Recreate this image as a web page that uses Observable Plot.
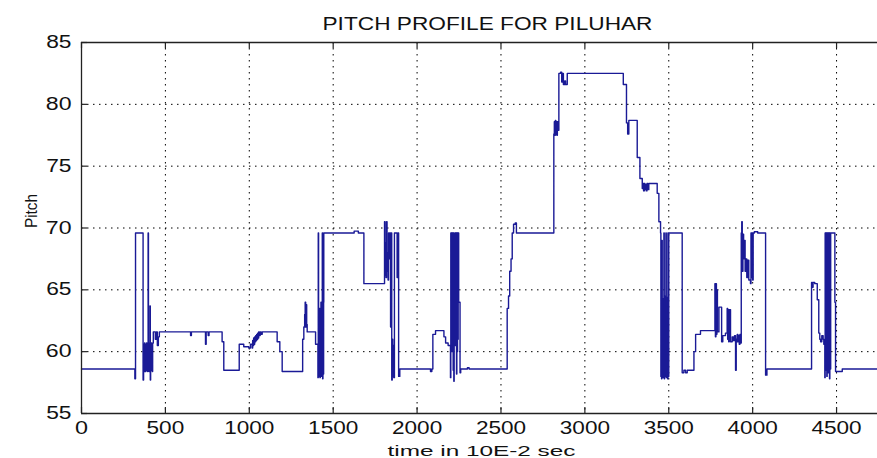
<!DOCTYPE html>
<html><head><meta charset="utf-8">
<script src="https://cdn.jsdelivr.net/npm/d3@7"></script>
<script src="https://cdn.jsdelivr.net/npm/@observablehq/plot@0.6"></script>
<style>body{margin:0;background:#fff;}</style>
</head><body><div id="chart"></div><script>
// [time (10E-2 s), pitch] samples, drawn as a step line
const samples = [
[0,58.6],[318,57.8],[322,69.6],[367,57.7],
[370,59.0],[372,60.6],[374,58.4],[376,60.7],[378,58.5],[380,60.5],[382,58.4],[384,60.6],[386,58.6],[388,60.7],[390,58.5],[392,60.4],[394,58.4],[396,60.6],[397,69.6],[399,58.5],[401,60.7],[403,58.4],[405,60.6],[407,58.5],[408,63.7],[410,57.7],[412,60.6],[414,58.5],[416,60.7],[418,58.6],[420,60.5],[422,58.4],[424,60.7],
[428,61.6],[440,61.0],[446,61.6],[452,60.5],[458,61.2],[464,61.6],[650,61.3],[655,61.6],[739,60.6],[743,61.6],[755,61.3],[760,61.6],[838,60.8],[848,58.5],
[940,60.6],[967,60.4],[997,60.3],[1007,60.6],[1017,60.3],[1020,60.9],[1023,60.5],[1026,61.1],[1029,60.6],[1032,61.2],[1035,60.8],[1038,61.3],[1041,60.9],[1044,61.4],[1047,61.0],[1050,61.5],[1053,61.1],[1056,61.6],[1060,61.3],[1065,61.6],[1070,61.4],[1077,61.6],
[1166,60.8],[1182,60.0],[1196,58.4],
[1318,61.0],[1325,62.0],[1330,63.0],[1333,64.0],[1336,62.0],[1339,63.8],[1342,62.2],[1345,61.6],[1395,60.6],
[1409,57.9],[1411,69.6],[1413,58.2],[1415,63.0],[1417,58.0],[1419,63.5],[1421,57.9],[1423,63.2],[1425,58.3],[1427,64.0],[1429,58.0],[1431,63.4],[1433,58.1],[1435,69.6],[1437,57.8],[1439,63.8],[1441,58.2],[1443,64.0],[1444,69.6],
[1625,69.75],[1650,69.6],[1683,65.5],
[1806,70.5],[1809,66.2],[1812,68.8],[1815,66.0],[1818,70.5],[1821,66.5],[1824,68.0],[1827,65.8],[1830,69.6],[1834,67.5],[1838,69.6],[1842,62.0],[1846,69.6],[1849,57.7],[1852,61.0],[1855,58.0],[1858,60.5],[1861,57.9],[1865,69.6],[1881,66.0],[1886,69.6],[1890,58.0],[1897,58.6],
[2080,58.4],[2088,58.6],[2094,61.4],[2110,61.7],[2160,61.2],[2170,60.7],[2185,60.5],
[2199,57.9],[2201,69.6],[2203,61.0],[2205,69.6],[2207,60.0],[2209,69.6],[2211,61.5],[2213,69.6],[2215,58.5],[2217,69.6],[2219,57.6],[2221,69.4],[2223,61.0],[2225,69.6],[2227,60.5],[2229,69.6],[2231,61.2],[2233,69.6],[2235,58.2],[2237,69.6],[2239,60.0],[2241,69.6],[2243,61.0],[2245,69.6],[2248,64.0],[2256,58.3],[2260,58.6],[2300,58.7],[2310,58.6],
[2537,63.5],[2545,64.5],[2552,66.5],[2560,67.5],[2567,69.6],[2575,70.3],[2585,70.4],[2592,69.6],
[2815,77.6],[2818,78.6],[2821,77.5],[2824,78.7],[2827,77.6],[2830,78.6],[2833,77.5],[2836,78.6],[2840,77.9],[2845,82.5],[2855,82.6],[2862,81.8],[2867,82.5],[2872,81.6],[2880,81.9],[2885,81.6],[2895,82.5],
[3229,81.6],[3248,78.5],[3255,77.6],[3262,78.7],[3312,75.7],[3328,74.0],[3342,73.2],[3346,73.6],[3350,73.0],[3354,73.6],[3358,73.1],[3362,73.5],[3366,73.0],[3370,73.6],[3375,73.1],[3381,73.6],[3431,72.8],[3441,70.5],
[3451,69.6],[3453,58.0],[3455,64.5],[3457,57.8],[3459,69.0],[3461,58.2],[3463,63.8],[3465,57.9],[3467,64.3],[3469,58.1],[3471,69.6],[3473,57.8],[3475,63.9],[3477,58.3],[3479,64.5],[3481,58.0],[3483,69.6],[3485,57.9],[3487,64.0],[3489,58.2],[3491,64.4],[3493,57.8],[3495,69.6],[3497,58.0],[3500,69.6],
[3580,58.3],[3590,58.5],[3600,58.3],[3610,58.5],[3650,60.0],[3660,61.4],[3689,61.7],
[3775,65.5],[3778,61.2],[3781,65.5],[3784,61.4],[3787,65.0],[3790,61.6],[3799,63.6],[3815,60.8],[3822,61.3],[3838,61.5],[3848,63.5],[3851,61.0],[3854,63.4],[3857,60.8],[3860,63.4],[3868,60.8],[3878,61.2],[3885,60.9],[3892,61.3],[3898,58.5],[3902,61.0],[3905,60.8],[3908,61.4],[3912,60.8],[3916,61.3],[3920,60.6],[3924,61.4],[3928,60.7],
[3932,69.6],[3935,70.5],[3938,66.5],[3942,69.5],[3946,67.5],[3950,69.0],[3955,66.5],[3960,67.5],[3965,66.0],[3970,67.4],[3977,65.8],[3987,65.5],[3990,69.6],[3993,66.0],[3996,69.6],[4000,65.8],[4003,69.6],[4010,69.7],[4030,69.6],[4077,58.1],[4085,58.6],
[4351,65.6],[4356,65.2],[4360,65.6],[4370,65.5],[4385,64.2],[4394,61.5],[4400,61.0],[4405,60.8],[4412,61.3],[4420,61.0],[4424,60.6],
[4430,57.9],[4432,69.6],[4434,58.5],[4436,69.6],[4438,59.0],[4440,69.6],[4442,58.0],[4444,69.6],[4446,59.5],[4448,69.6],[4450,58.3],[4452,69.6],[4454,59.2],[4456,69.6],[4458,57.8],[4460,69.6],[4462,58.6],[4465,69.6],
[4490,64.0],[4494,58.4],[4534,58.6],[4744,58.6]
];
const xTicks = [0,500,1000,1500,2000,2500,3000,3500,4000,4500];
const yTicks = [55,60,65,70,75,80,85];
const xGrid = [500,1000,1500,2000,2500,3000,3500,4000,4500];
const yGrid = [60,65,70,75,80];
const title = "PITCH PROFILE FOR PILUHAR";
const xLabel = "time in 10E-2 sec";
const yLabel = "Pitch";

const data = samples.map(([t, p]) => ({t, p}));
const axisColor = "#222";
const chart = Plot.plot({
  width: 877, height: 458,
  marginLeft: 81, marginTop: 42, marginBottom: 45, marginRight: 0,
  style: {fontFamily: "'Liberation Sans', Arial, sans-serif", background: "#fff", color: "#111"},
  x: {domain: [0, 4744]},
  y: {domain: [55, 85]},
  marks: [
    Plot.ruleX(xGrid, {stroke: "#000", strokeWidth: 1, strokeDasharray: "1.5,4.5"}),
    Plot.ruleY(yGrid, {stroke: "#000", strokeWidth: 1, strokeDasharray: "1.5,4.5"}),
    Plot.line(data, {x: "t", y: "p", curve: "step-after", stroke: "#1a1a96", strokeWidth: 1.4}),
    Plot.ruleY([55, 85], {stroke: axisColor, strokeWidth: 1.3}),
    Plot.ruleX([0], {stroke: axisColor, strokeWidth: 1.3}),
    Plot.ruleX(xTicks, {insetTop: 365, stroke: axisColor, strokeWidth: 1.2}),
    Plot.ruleX(xTicks, {insetBottom: 365, stroke: axisColor, strokeWidth: 1.2}),
    Plot.ruleY(yTicks, {insetRight: 790, stroke: axisColor, strokeWidth: 1.2}),
    Plot.axisX(xTicks, {tickSize: 0, tickPadding: 8, fontSize: 17.5, label: null, tickFormat: d => `${d}`}),
    Plot.axisY(yTicks, {tickSize: 0, tickPadding: 10, fontSize: 17.5, label: null, tickFormat: d => `${d}`}),
    Plot.text([title], {frameAnchor: "top", dx: 8, dy: -13, lineAnchor: "bottom", fontSize: 17.5}),
    Plot.text([xLabel], {frameAnchor: "bottom", dx: 2, dy: 42, lineAnchor: "bottom", fontSize: 14.5}),
    Plot.text([yLabel], {frameAnchor: "left", rotate: -90, dx: -50, fontSize: 17})
  ]
});
document.getElementById("chart").append(chart);
const svgEl = chart.tagName.toLowerCase() === "svg" ? chart : chart.querySelector("svg");
svgEl.querySelectorAll("text").forEach(t => {
  const s = t.textContent;
  let target = null;
  if (s === title) target = 330;
  else if (s === xLabel) target = 188;
  else if (s === yLabel) target = 34;
  else if (/^\d+$/.test(s)) target = t.getBBox().width * (s.length <= 2 ? 1.3 : 1.28);
  if (target) {
    t.setAttribute("textLength", target.toFixed(1));
    t.setAttribute("lengthAdjust", "spacingAndGlyphs");
  }
});
</script></body></html>
